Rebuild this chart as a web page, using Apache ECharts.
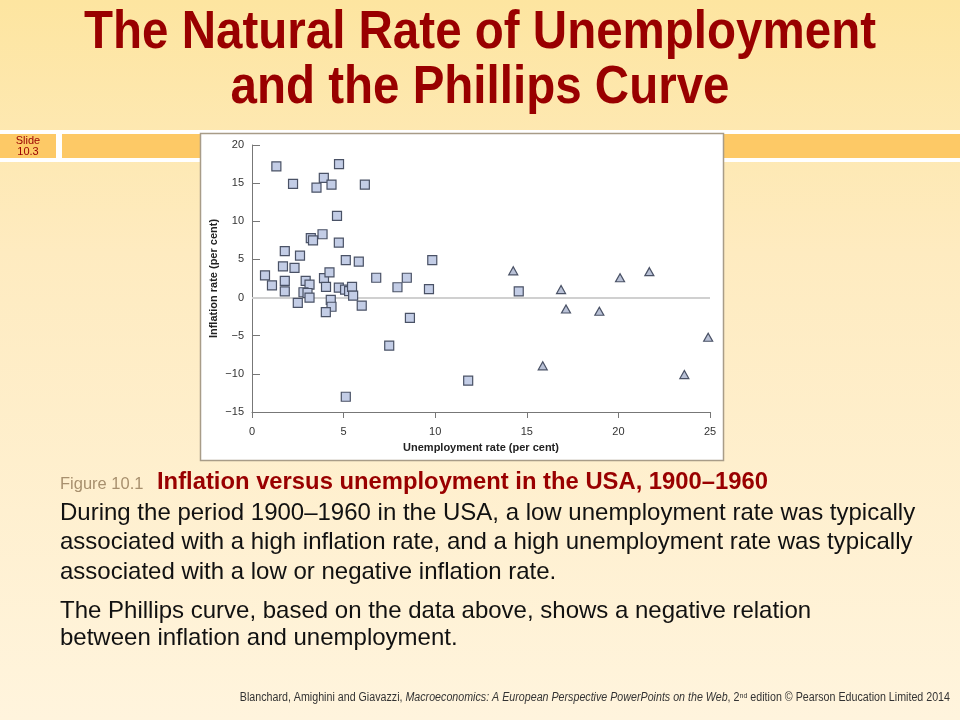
<!DOCTYPE html>
<html>
<head>
<meta charset="utf-8">
<script src="https://cdn.jsdelivr.net/npm/echarts@6/dist/echarts.min.js"></script>
<style>
html,body{margin:0;padding:0;width:960px;height:720px;overflow:hidden;}
#main{width:960px;height:720px;}
</style>
</head>
<body>
<div id="main"></div>
<script>
// ---- Data (unemployment %, inflation %) ----
// 1900–1930 and 1940–1960 (squares)
const squarePoints = [
  [1.33,17.2],[2.24,14.9],[3.52,14.4],[3.92,15.7],[4.34,14.8],[4.75,17.5],[6.16,14.8],
  [4.64,10.7],[3.85,8.3],[3.21,7.8],[3.33,7.5],[4.74,7.2],
  [1.79,6.1],[2.62,5.5],[1.69,4.1],[2.32,3.9],[5.12,4.9],[5.83,4.7],[9.84,4.9],
  [0.71,2.9],[1.09,1.6],[1.79,2.2],[1.79,0.8],[2.93,2.2],[3.14,1.7],[2.81,0.7],[3.03,0.6],[3.14,0.0],
  [3.93,2.55],[4.23,3.3],[4.04,1.4],[4.74,1.3],[5.08,1.05],[5.3,0.85],[5.46,1.4],[5.52,0.25],
  [6.78,2.6],[7.94,1.35],[8.45,2.6],[9.66,1.1],
  [2.5,-0.7],[4.3,-0.3],[4.34,-1.2],[4.03,-1.9],[5.99,-1.05],[8.62,-2.65],[7.49,-6.3],
  [5.12,-13.0],[11.8,-10.9],[14.56,0.82]
];
// 1931–1939 (triangles)
const trianglePoints = [
  [14.26,3.5],[16.87,1.05],[17.14,-1.5],[18.96,-1.8],[20.09,2.6],[21.69,3.4],
  [15.87,-8.95],[23.6,-10.1],[24.9,-5.2]
];
const xTickValues = [0, 5, 10, 15, 20, 25];
const yTickValues = [-15, -10, -5, 0, 5, 10, 15, 20];

const titleLines = ['The Natural Rate of Unemployment', 'and the Phillips Curve'];
const slideLabel = 'Slide\n10.3';
const figureLabel = 'Figure 10.1';
const figureTitle = 'Inflation versus unemployment in the USA, 1900–1960';
const para1 = [
  'During the period 1900–1960 in the USA, a low unemployment rate was typically',
  'associated with a high inflation rate, and a high unemployment rate was typically',
  'associated with a low or negative inflation rate.'
];
const para2 = [
  'The Phillips curve, based on the data above, shows a negative relation',
  'between inflation and unemployment.'
];

const chart = echarts.init(document.getElementById('main'), null, {renderer:'canvas'});
const F = 'Liberation Sans, Arial, sans-serif';
const RED = '#990000';

const graphics = [
  {type:'rect', z:-100, shape:{x:0,y:0,width:960,height:720},
   style:{fill:new echarts.graphic.LinearGradient(0,0,0,1,[
     {offset:0,color:'#FDE5A0'},{offset:0.35,color:'#FEEBC0'},{offset:1,color:'#FFF4DD'}])}},
  {type:'rect', z:-90, shape:{x:0,y:130,width:960,height:32}, style:{fill:'#FFFFFF'}},
  {type:'rect', z:-89, shape:{x:0,y:134,width:56,height:24}, style:{fill:'#FDC966'}},
  {type:'rect', z:-89, shape:{x:62,y:134,width:898,height:24}, style:{fill:'#FDC966'}},
  {type:'rect', z:-80, shape:{x:200.5,y:133.5,width:523,height:327},
   style:{fill:'#FFFFFF', stroke:'#A89C88', lineWidth:1.5}},
  {type:'text', z:100, x:28, y:146, style:{x:0,y:0,text:slideLabel,fill:RED,
    font:'11px '+F, textAlign:'center', textVerticalAlign:'middle', lineHeight:11}},
  {type:'text', z:100, x:480, y:33, scaleX:0.88, style:{x:0,y:0,text:titleLines[0],fill:RED,
    font:'bold 54px '+F, textAlign:'center', textVerticalAlign:'middle'}},
  {type:'text', z:100, x:480, y:88, scaleX:0.88, style:{x:0,y:0,text:titleLines[1],fill:RED,
    font:'bold 54px '+F, textAlign:'center', textVerticalAlign:'middle'}},
  {type:'text', z:100, x:60, y:484, style:{x:0,y:0,text:figureLabel,fill:'#A8906E',
    font:'16.5px '+F, textVerticalAlign:'middle'}},
  {type:'text', z:100, x:157, y:482, style:{x:0,y:0,text:figureTitle,fill:RED,
    font:'bold 23.8px '+F, textVerticalAlign:'middle'}},
  {type:'text', z:100, x:950, y:698, scaleX:0.89, style:{x:0,y:0,
    text:'{n|Blanchard, Amighini and Giavazzi, }{i|Macroeconomics: A European Perspective PowerPoints on the Web}{n|, 2}{s|nd}{n| edition © Pearson Education Limited 2014}',
    textAlign:'right', textVerticalAlign:'middle',
    rich:{
      n:{font:'12px '+F, fill:'#333333'},
      i:{font:'italic 12px '+F, fill:'#333333'},
      s:{font:'8px '+F, fill:'#333333', verticalAlign:'top', padding:[0,0,5,0]}
    }}}
];
para1.forEach((t,i)=>graphics.push({type:'text', z:100, x:60, y:513+i*29.5, style:{x:0,y:0,text:t,fill:'#111111',
  font:'24px '+F, textVerticalAlign:'middle'}}));
para2.forEach((t,i)=>graphics.push({type:'text', z:100, x:60, y:611+i*27.5, style:{x:0,y:0,text:t,fill:'#111111',
  font:'24px '+F, textVerticalAlign:'middle'}}));

const minus = v => String(v).replace('-', '\u2212');

chart.setOption({
  animation:false,
  graphic: graphics,
  grid:{left:252, right:250, top:145, bottom:308, containLabel:false},
  xAxis:{
    type:'value', min:xTickValues[0], max:xTickValues[xTickValues.length-1], interval:5,
    name:'Unemployment rate (per cent)', nameLocation:'middle', nameGap:30,
    nameTextStyle:{fontFamily:F, fontWeight:'bold', fontSize:11, color:'#222'},
    axisLine:{show:true, onZero:false, lineStyle:{color:'#777', width:1}},
    axisTick:{show:true, inside:false, length:6, lineStyle:{color:'#777'}},
    axisLabel:{fontFamily:F, fontSize:11, color:'#333', margin:14, formatter:minus},
    splitLine:{show:false}
  },
  yAxis:{
    type:'value', min:yTickValues[0], max:yTickValues[yTickValues.length-1], interval:5,
    name:'Inflation rate (per cent)', nameLocation:'middle', nameGap:33, nameRotate:90,
    nameTextStyle:{fontFamily:F, fontWeight:'bold', fontSize:11, color:'#222'},
    axisLine:{show:true, onZero:false, lineStyle:{color:'#777', width:1}},
    axisTick:{show:true, inside:true, length:8, lineStyle:{color:'#777'}},
    axisLabel:{fontFamily:F, fontSize:11, color:'#333', margin:8, formatter:minus},
    splitLine:{show:false}
  },
  series:[
    {type:'scatter', name:'1900–1930, 1940–1960', data:squarePoints, symbol:'rect', symbolSize:9,
     itemStyle:{color:'#C3CDE6', borderColor:'#4A5266', borderWidth:1.2, opacity:1},
     markLine:{silent:true, symbol:'none', label:{show:false},
       lineStyle:{color:'#D0D0D0', width:2, type:'solid'}, data:[{yAxis:0}], z:1}},
    {type:'scatter', name:'1931–1939', data:trianglePoints, symbol:'triangle', symbolSize:[9,8],
     itemStyle:{color:'#B9C1D6', borderColor:'#4A5266', borderWidth:1.2, opacity:1}}
  ]
});
</script>
</body>
</html>
